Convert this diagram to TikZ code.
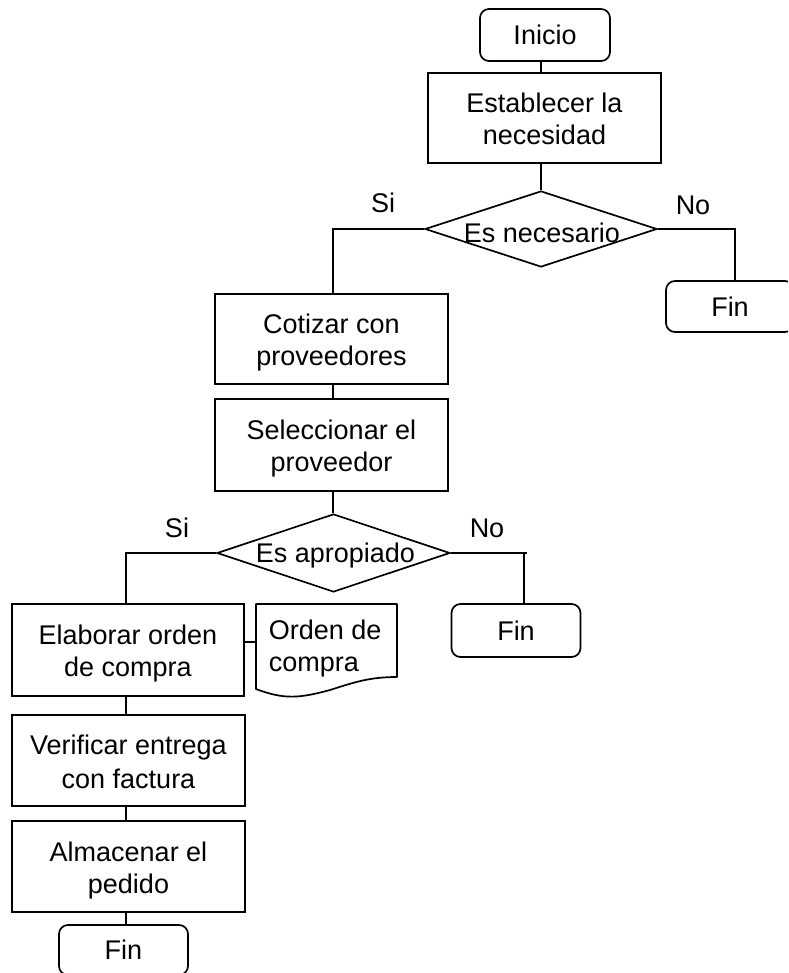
\documentclass[tikz,border=0pt]{standalone}
\usepackage{fontspec}
\setmainfont{Liberation Sans}
\usetikzlibrary{shapes.geometric}
% line strut so that two-line labels sit like word-processor text
\newcommand\lnstrut{\rule[-5pt]{0pt}{32pt}}
\begin{document}
\begin{tikzpicture}[x=1pt,y=-1pt,
  line width=1.7pt,
  every node/.style={font=\fontsize{27}{32}\selectfont, inner sep=0pt},
  process/.style={draw, rectangle, align=center},
  terminal/.style={draw, rectangle, rounded corners=9pt, align=center},
  decision/.style={draw, diamond, aspect=3},
  docshape/.style={draw, line join=round}]
\useasboundingbox (0,0) rectangle (788,973);
\clip (0,0) rectangle (788,973);

% vertical guide columns for the connectors
\coordinate (colA) at (126,0);
\coordinate (colB) at (333,0);
\coordinate (colC) at (735,0);
\coordinate (colD) at (524,0);

% top part
\node[terminal, minimum width=130pt, minimum height=52pt] (inicio) at (545,35) {Inicio};
\node[process, minimum width=233pt, minimum height=90pt] (estab) at (544.5,118) {\lnstrut Establecer la\\\lnstrut necesidad};
\node[decision, minimum width=232pt, minimum height=76pt] (d1) at (541,229) {};
\node (d1t) at (542,233) {Es necesario};
\node (si1) at (383,203) {Si};
\node (no1) at (693,205) {No};
\node[terminal, minimum width=128pt, minimum height=51pt] (fin1) at (730,306.5) {Fin};

% middle part
\node[process, minimum width=233pt, minimum height=90pt] (cot) at (331.5,339) {\lnstrut Cotizar con\\\lnstrut proveedores};
\node[process, minimum width=233pt, minimum height=92pt] (sel) at (331.5,445) {\lnstrut Seleccionar el\\\lnstrut proveedor};
\node[decision, minimum width=233pt, minimum height=78pt] (d2) at (333.5,553) {};
\node (d2t) at (335.5,556) {Es apropiado};
\node (si2) at (177,528) {Si};
\node (no2) at (487,528) {No};
\node[terminal, minimum width=129pt, minimum height=53pt] (fin2) at (516,630.5) {Fin};

% bottom part
\node[process, minimum width=232pt, minimum height=92pt] (elab) at (128,650) {\lnstrut Elaborar orden\\\lnstrut de compra};
\draw[docshape] (256,604) -- (397,604) -- (397,677)
  .. controls (370,677) and (355,682) .. (330,690)
  .. controls (300,698) and (285,700) .. (256,689) -- cycle;
\node[anchor=west, align=left] (doc) at (268,649) {Orden de\\compra};
\node[process, minimum width=233pt, minimum height=91pt] (verif) at (128.5,760.5) {\lnstrut Verificar entrega\\\lnstrut con factura};
\node[process, minimum width=233pt, minimum height=91pt] (alm) at (128.5,866.5) {\lnstrut Almacenar el\\\lnstrut pedido};
\node[terminal, minimum width=129pt, minimum height=50pt] (fin3) at (123.5,950) {Fin};

% connectors
\coordinate (docw) at (256,642);
\coordinate (d2stub) at (527,553);
\draw (inicio.south -| d1.north) -- (estab.north -| d1.north);
\draw (estab.south -| d1.north) -- (d1.north);
\draw (d1.west) -| (cot.north -| colB);
\draw (d1.east) -| (fin1.north -| colC);
\draw (cot.south -| colB) -- (sel.north -| colB);
\draw (sel.south -| colB) -- (d2.north -| colB);
\draw (d2.west) -| (elab.north -| colA);
\draw (d2.east) -- (d2stub);
\draw (colD |- d2.east) -- (fin2.north -| colD);
\draw (elab.east |- docw) -- (docw);
\draw (elab.south -| colA) -- (verif.north -| colA);
\draw (verif.south -| colA) -- (alm.north -| colA);
\draw (alm.south -| colA) -- (fin3.north -| colA);
\end{tikzpicture}
\end{document}
